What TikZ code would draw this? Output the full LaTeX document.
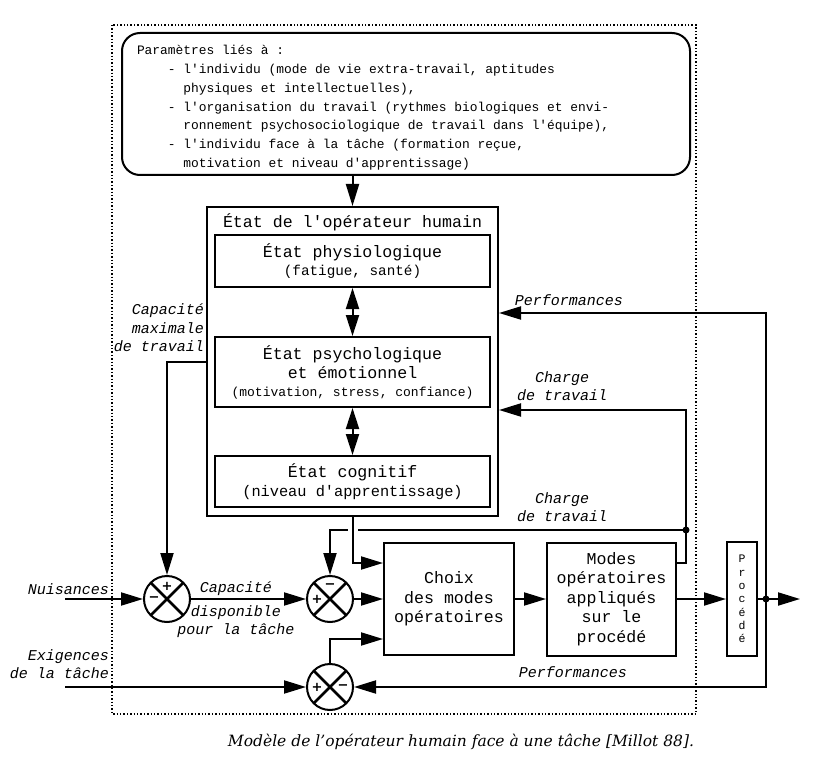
\documentclass[tikz,border=0pt]{standalone}
\usepackage{fontspec}
\setmonofont{Liberation Mono}
\newfontfamily\capfont{DejaVu Serif}
\newfontfamily\signfont{DejaVu Sans}
\usetikzlibrary{arrows.meta,positioning,calc}
\begin{document}
\begin{tikzpicture}[x=1pt,y=-1pt,line width=2pt]
    \tikzstyle{box}=[draw, rectangle, inner sep=0pt, align=center, font=\ttfamily\fontsize{16.6}{19.5}\selectfont]
    \tikzstyle{sumnode}=[draw, circle, minimum size=46pt, inner sep=0pt,
        path picture={\draw[line width=2.6pt] (path picture bounding box.south west) -- (path picture bounding box.north east)
                            (path picture bounding box.north west) -- (path picture bounding box.south east);}]
    \tikzstyle{arr}=[-{Triangle[length=22pt,width=13pt]}]
    \tikzstyle{dblarr}=[{Triangle[length=21pt,width=13pt]}-{Triangle[length=21pt,width=13pt]}]
    \tikzstyle{lbl}=[font=\ttfamily\itshape\fontsize{15}{18.5}\selectfont, align=center, inner sep=0pt]
    \tikzstyle{sign}=[font=\signfont\bfseries\fontsize{13}{13}\selectfont, inner sep=0pt]
    \useasboundingbox (0,0) rectangle (816,767);
    \draw[line width=1.4pt, dotted] (112,25) rectangle (696,714);
    \node[draw, rounded corners=18pt, minimum width=568pt, minimum height=142pt] (params) at (406,104) {};
    \node[anchor=north west, align=left, inner sep=0pt, font=\ttfamily\fontsize{12.9}{18.9}\selectfont] (paramtxt) at (136,44)
        {Paramètres liés à :\\
         \hphantom{xxxx}- l'individu (mode de vie extra-travail, aptitudes\\
         \hphantom{xxxxxx}physiques et intellectuelles),\\
         \hphantom{xxxx}- l'organisation du travail (rythmes biologiques et envi-\\
         \hphantom{xxxxxx}ronnement psychosociologique de travail dans l'équipe),\\
         \hphantom{xxxx}- l'individu face à la tâche (formation reçue,\\
         \hphantom{xxxxxx}motivation et niveau d'apprentissage)};
    \node[box, minimum width=291pt, minimum height=309pt] (state) at (352.5,361.5) {};
    \node[box, draw=none] (statetitle) at (352.5,222) {État de l'opérateur humain};
    \node[box, minimum width=275pt, minimum height=52pt] (physio) at (352.5,261)
        {État physiologique\\[-1pt]{\fontsize{14.3}{16}\selectfont(fatigue, santé)}};
    \node[box, minimum width=275pt, minimum height=70pt] (psycho) at (352.5,372)
        {État psychologique\\et émotionnel\\[-2pt]{\fontsize{13}{15}\selectfont(motivation, stress, confiance)}};
    \node[box, minimum width=275pt, minimum height=51pt] (cogn) at (352.5,481.5)
        {État cognitif\\[-1pt]{\fontsize{15.3}{17}\selectfont(niveau d'apprentissage)}};
    \node[box, minimum width=130pt, minimum height=112pt] (choix) at (449,599) {Choix\\des modes\\opératoires};
    \node[box, minimum width=129pt, minimum height=113pt] (modes) at (611.5,599) {Modes\\opératoires\\appliqués\\sur le\\procédé};
    \node[box, minimum width=30pt, minimum height=114pt, font=\ttfamily\fontsize{11.5}{13.3}\selectfont] (proc) at (742,599)
        {P\\r\\o\\c\\é\\d\\é};
    \node[sumnode] (s1) at (167,599) {};
    \node[sumnode] (s2) at (330,599) {};
    \node[sumnode] (s3) at (330,687) {};
    \node[sign] (s1p) at ([yshift=13pt]s1.center) {+};
    \node[sign] (s1m) at ([xshift=-13pt]s1.center) {−};
    \node[sign] (s2m) at ([yshift=13pt]s2.center) {−};
    \node[sign] (s2p) at ([xshift=-13pt]s2.center) {+};
    \node[sign] (s3p) at ([xshift=-13pt]s3.center) {+};
    \node[sign] (s3m) at ([xshift=13pt]s3.center) {−};
    \coordinate (cmax) at (state.west |- 0,362);
    \coordinate (nuis) at (65,599);
    \coordinate (exig) at (65,687);
    \coordinate (out) at (800,599);
    \coordinate (pdot) at (766,599);
    \coordinate (cdot) at (686,530);
    \coordinate (jump) at (state.south |- cdot);
    \draw[arr] (params.south -| state.north) -- (state.north);
    \draw[dblarr] (physio.south) -- (psycho.north);
    \draw[dblarr] (psycho.south) -- (cogn.north);
    \draw[arr] (cmax) -| (s1.north);
    \draw[arr] (nuis) -- (s1.west);
    \draw[arr] (exig) -- (s3.west);
    \draw[arr] (s1.east) -- (s2.west);
    \draw[arr] (s2.east) -- (choix.west);
    \draw[arr] (state.south) |- ([yshift=36pt]choix.west);
    \draw[arr] (s3.north) |- ([yshift=-40pt]choix.west);
    \draw[arr] (choix.east) -- (modes.west);
    \draw[arr] (modes.east) -- (proc.west);
    \draw[arr] (proc.east) -- (out);
    \draw[arr] (pdot) |- (state.east |- 0,313);
    \draw[arr] (pdot) |- (s3.east);
    \draw[arr] ([yshift=36pt]modes.east) -| (cdot) |- (state.east |- 0,410);
    \draw (cdot) -- ([xshift=5pt]jump);
    \draw[arr] ([xshift=-5pt]jump) -| (s2.north);
    \fill (pdot) circle (3.5pt);
    \fill (cdot) circle (3.5pt);
    \node[lbl, anchor=east, align=right] (cmaxlbl) at (205,328) {Capacité\\maximale\\de travail};
    \node[lbl, anchor=east] (nuislbl) at (110,589) {Nuisances};
    \node[lbl, anchor=east, align=right] (exiglbl) at (110,664) {Exigences\\de la tâche};
    \node[lbl] (capdisp) at (236,610) {Capacité\\[5pt]disponible\\pour la tâche};
    \node[lbl] (perfup) at (569,300) {Performances};
    \node[lbl] (perfdown) at (573,672) {Performances};
    \node[lbl] (chargeup) at (562,386) {Charge\\de travail};
    \node[lbl] (chargedown) at (562,507) {Charge\\de travail};
    \node[font=\capfont\itshape\fontsize{15.5}{18}\selectfont] (caption) at (461,742)
        {Modèle de l’opérateur humain face à une tâche [Millot 88].};
\end{tikzpicture}
\end{document}
